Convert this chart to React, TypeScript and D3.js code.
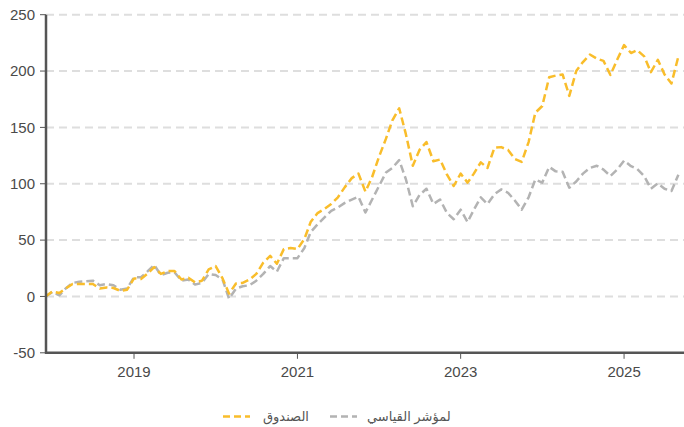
import React from "react";
import * as d3 from "d3";

const startMonth = new Date(2017, 11, 1);
const endMonthExclusive = new Date(2025, 9, 1);

const fundValues = [
  0, 4.5, 3, 7, 11, 11, 11, 11, 7, 8, 7.5, 5, 6,
  16, 15.5, 20, 26, 20, 22.5, 22.5, 15, 16.5, 12.5, 14, 24,
  27, 16, 2.5, 11.5, 12, 15, 20, 30, 36, 29, 42, 43,
  42, 51, 66, 74, 77.5, 82, 88, 97, 105, 109, 93, 106,
  124, 140, 156, 167, 144, 116, 130, 137, 120, 121.5, 108, 98,
  109, 101, 109, 119, 114, 132, 132.5, 130, 122, 119.4, 137, 163,
  169, 194.5, 196, 197, 178, 200, 208, 214.7, 211, 209, 196.5, 210,
  223, 216, 218.5, 213, 199, 210, 197, 189, 213,
];

const indexValues = [
  0, 4, 1, 7, 12, 13, 13.5, 14, 10, 11, 10, 6, 7,
  17, 17, 22, 28, 19, 21, 21.5, 14, 15, 10.5, 12, 20,
  19, 15, -2, 7, 9, 10, 14, 20, 27, 22, 34, 34,
  34, 43, 57, 64, 70, 76, 79, 83, 86, 88.5, 74.5, 86,
  98, 110, 114, 121, 104, 80, 90, 95.6, 82, 86, 74, 68.5,
  77, 66, 77, 88, 82, 90.6, 95, 92, 85, 77, 88, 103.8,
  101, 115, 111, 110.6, 96.5, 102, 109, 114, 116, 112.6, 106.8, 112.6,
  120.5, 115.6, 113, 106.8, 95.6, 100.3, 95.6, 93.5, 108,
];

const yTicks = [-50, 0, 50, 100, 150, 200, 250];
const xTickYears = [2019, 2021, 2023, 2025];
const seriesNames = ["الصندوق", "لمؤشر القياسي"];
const seriesColors = ["#f9bd2b", "#b3b3b3"];

const W = 684;
const H = 427;
const plotLeft = 46;
const plotRight = 684;
const plotTop = 14.7;
const plotBottom = 352.8;
const FONT = "Arial, 'Liberation Sans', 'DejaVu Sans', sans-serif";

export default function App() {
  const months = d3.timeMonth.range(startMonth, endMonthExclusive);
  const x = d3
    .scaleTime()
    .domain([months[0], months[months.length - 1]])
    .range([45.5, 678.4]);
  const y = d3.scaleLinear().domain([-50, 250]).range([plotBottom, plotTop]);

  const mk = (vals: number[]) =>
    d3
      .line<number>()
      .x((_, i) => x(months[i]))
      .y((v) => y(v))(vals) || "";

  const series = [fundValues, indexValues];

  return (
    <div style={{ position: "absolute", left: 0, top: 0 }}>
      <svg width={W} height={H} style={{ display: "block", background: "#fff" }} fontFamily={FONT}>
        {yTicks
          .filter((t) => t !== -50)
          .map((t) => (
            <line
              key={"g" + t}
              x1={plotLeft}
              x2={plotRight}
              y1={y(t)}
              y2={y(t)}
              stroke="#dedede"
              strokeWidth={2}
              strokeDasharray="8,5"
            />
          ))}
        {yTicks.map((t) => (
          <g key={"yt" + t}>
            <line x1={40} x2={plotLeft} y1={y(t)} y2={y(t)} stroke="#555" strokeWidth={1} />
            <text
              x={35}
              y={y(t)}
              dy="0.35em"
              textAnchor="end"
              fontSize={15}
              fill="#4a4a4a"
            >
              {t}
            </text>
          </g>
        ))}
        {xTickYears.map((yr) => {
          const px = x(new Date(yr, 0, 1));
          return (
            <g key={"xt" + yr}>
              <line x1={px} x2={px} y1={plotBottom} y2={plotBottom + 6} stroke="#555" strokeWidth={1} />
              <text x={px} y={377} textAnchor="middle" fontSize={15} fill="#4a4a4a">
                {yr}
              </text>
            </g>
          );
        })}
        {series
          .slice()
          .reverse()
          .map((vals, ri) => {
            const i = series.length - 1 - ri;
            return (
              <path
                key={"s" + i}
                d={mk(vals)}
                fill="none"
                stroke={seriesColors[i]}
                strokeWidth={2.5}
                strokeDasharray="8,4"
                strokeLinejoin="round"
              />
            );
          })}
        <line x1={plotLeft} x2={plotLeft} y1={plotTop} y2={plotBottom + 1} stroke="#555" strokeWidth={2.5} />
        <line x1={plotLeft - 1} x2={plotRight} y1={plotBottom} y2={plotBottom} stroke="#555" strokeWidth={2.5} />
        <g>
          <line x1={223} x2={250} y1={416.5} y2={416.5} stroke={seriesColors[0]} strokeWidth={2.5} strokeDasharray="7,4" />
          <text x={263} y={416.5} dy="0.35em" fontSize={13} fill="#555">
            {seriesNames[0]}
          </text>
          <line x1={330} x2={357} y1={416.5} y2={416.5} stroke={seriesColors[1]} strokeWidth={2.5} strokeDasharray="7,4" />
          <text x={367} y={416.5} dy="0.35em" fontSize={13} fill="#555">
            {seriesNames[1]}
          </text>
        </g>
      </svg>
    </div>
  );
}
